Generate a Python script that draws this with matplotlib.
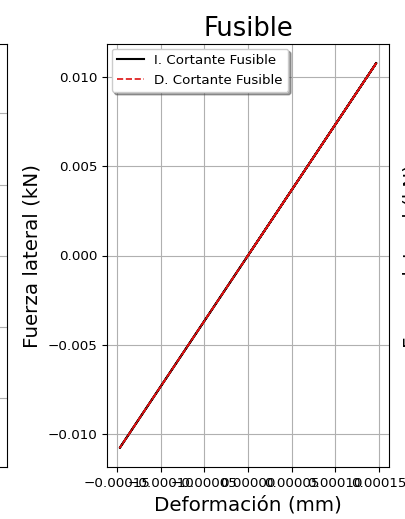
import matplotlib
matplotlib.use("Agg")
import matplotlib.pyplot as plt

# Hysteresis path of the fuse shear element (deformation in mm, force in kN)
deformacion = [0.0, 0.000147, -0.000147, 0.000147]
fuerza_i = [0.0, 0.0108, -0.0108, 0.0108]
fuerza_d = [0.0, 0.0108, -0.0108, 0.0108]

ticks_x = [-0.00015, -0.0001, -0.00005, 0.0, 0.00005, 0.0001, 0.00015]
ticks_y = [-0.010, -0.005, 0.0, 0.005, 0.010]

titulo = "Fusible"
etiqueta_x = "Deformación (mm)"
etiqueta_y = "Fuerza lateral (kN)"
serie_i = "I. Cortante Fusible"
serie_d = "D. Cortante Fusible"

W, H = 406, 519
fig = plt.figure(figsize=(W / 100, H / 100), dpi=100)

def box(l, r, b, t):
    return [l / W, 1 - b / H, (r - l) / W, (b - t) / H]

# neighbouring panel on the left (only its right edge is in view)
axl = fig.add_axes(box(-300, 7, 467, 44))
axl.set_ylim(0, 1)
axl.set_yticks([0.163, 0.331, 0.498, 0.667, 0.837])
axl.set_yticklabels([])
axl.set_xticks([])
axl.grid(True, color="#b0b0b0", linewidth=0.8)

# neighbouring panel on the right (only its y label is in view)
axr = fig.add_axes(box(427, 800, 467, 44))
axr.set_ylabel(etiqueta_y, fontsize=14.3)
axr.set_xticks([])
axr.set_yticks([])

ax = fig.add_axes(box(107, 389, 467, 44))
ax.plot(deformacion, fuerza_i, color="black", linewidth=1.5, label=serie_i)
ax.plot(deformacion, fuerza_d, color="#dd1111", linestyle="--", linewidth=1.2,
        label=serie_d)
ax.set_xticks(ticks_x)
ax.set_yticks(ticks_y)
ax.set_title(titulo, fontsize=18.5)
ax.set_xlabel(etiqueta_x, fontsize=14.3)
ax.set_ylabel(etiqueta_y, fontsize=14.3)
ax.tick_params(labelsize=9.7)
ax.grid(True, color="#b0b0b0", linewidth=0.8)
ax.legend(loc="upper left", fontsize=9.6, borderaxespad=0.35, shadow=True)

fig.savefig("out.png", dpi=100)
